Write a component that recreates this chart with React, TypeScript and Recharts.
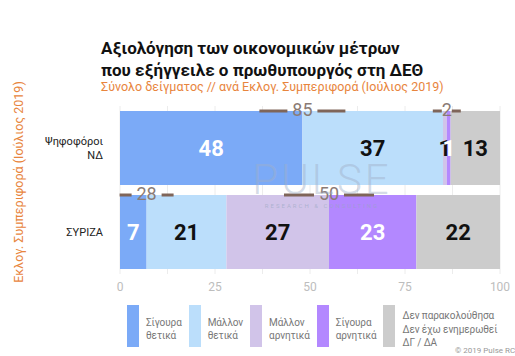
import React from 'react';
import {
  BarChart,
  Bar,
  XAxis,
  YAxis,
  CartesianGrid,
  LabelList,
} from 'recharts';

const categories = ['Ψηφοφόροι\nΝΔ', 'ΣΥΡΙΖΑ'];
const seriesNames = [
  'Σίγουρα\nθετικά',
  'Μάλλον\nθετικά',
  'Μάλλον\nαρνητικά',
  'Σίγουρα\nαρνητικά',
  'Δεν παρακολούθησα\nΔεν έχω ενημερωθεί\nΔΓ / ΔΑ',
];
const definitelyPositive = [48, 7];
const ratherPositive = [37, 21];
const ratherNegative = [1, 27];
const definitelyNegative = [1, 23];
const dontKnow = [13, 22];
const positiveTotals = [85, 28];
const negativeTotals = [2, 50];
const xTicks = [0, 12.5, 25, 37.5, 50, 62.5, 75, 87.5, 100];

const COLORS = ['#7BAAF7', '#BBDEFB', '#D1C4E9', '#B388FF', '#CCCCCC'];
const LABEL_COLORS = ['#ffffff', '#111111', '#111111', '#ffffff', '#111111'];
const KEYS = ['s1', 's2', 's3', 's4', 's5'];
const ORANGE = '#E8853D';
const FONT = 'Roboto, "Noto Sans", sans-serif';

// dash lengths of the total markers, per row
const POS_DASH = [28, 12];
const NEG_DASH = [9, 30];

const data = categories.map((name, i) => ({
  name,
  s1: definitelyPositive[i],
  s2: ratherPositive[i],
  s3: ratherNegative[i],
  s4: definitelyNegative[i],
  s5: dontKnow[i],
}));

const CategoryTick = (props: any) => {
  const { x, y, payload } = props;
  const lines = String(payload.value).split('\n');
  const start = -((lines.length - 1) * 14) / 2;
  return (
    <text x={x - 9} y={y} textAnchor="end" fontSize={11} fill="#222" fontFamily={FONT}>
      {lines.map((l, i) => (
        <tspan key={i} x={x - 9} y={y + start + i * 14} dy="0.35em">
          {l}
        </tspan>
      ))}
    </text>
  );
};

const TotalMark = ({ cx, cy, value, dash }: any) => {
  const half = String(value).length * 10 - 5;
  return (
    <g>
      <line x1={cx - half - dash} x2={cx - half} y1={cy} y2={cy} stroke="#7f6559" strokeWidth={3} />
      <line x1={cx + half} x2={cx + half + dash} y1={cy} y2={cy} stroke="#7f6559" strokeWidth={3} />
      <text
        x={cx}
        y={cy - 2}
        textAnchor="middle"
        dominantBaseline="central"
        fontSize={18}
        fill="#8a7b75"
        fontFamily={FONT}
      >
        {value}
      </text>
    </g>
  );
};

// drawn on the last series so the markers sit above every bar
const Totals = (props: any) => {
  const { x, y, width, index } = props;
  const k = Number(width) / dontKnow[index];
  const rowTotal =
    definitelyPositive[index] + ratherPositive[index] + ratherNegative[index] + definitelyNegative[index] + dontKnow[index];
  const right = Number(x) + Number(width);
  const posB = definitelyPositive[index];
  const negB = posB + ratherPositive[index] + ratherNegative[index];
  return (
    <g>
      <TotalMark cx={right - (rowTotal - posB) * k} cy={Number(y)} value={positiveTotals[index]} dash={POS_DASH[index]} />
      <TotalMark cx={right - (rowTotal - negB) * k} cy={Number(y)} value={negativeTotals[index]} dash={NEG_DASH[index]} />
    </g>
  );
};

const ChartLegend = () => (
  <div style={{ position: 'absolute', left: 127, top: 303, display: 'flex', gap: 7 }}>
    {seriesNames.map((name, i) => (
      <div key={i} style={{ display: 'flex', alignItems: 'center' }}>
        <div style={{ width: 12, height: 42, background: COLORS[i], marginRight: 7 }} />
        <div
          style={{
            fontSize: 10,
            letterSpacing: -0.1,
            lineHeight: '13.5px',
            color: '#777',
            whiteSpace: 'pre',
            paddingTop: 6,
          }}
        >
          {name}
        </div>
      </div>
    ))}
  </div>
);

export default function App() {
  return (
    <div
      style={{
        position: 'absolute',
        left: 0,
        top: 0,
        width: 515,
        height: 356,
        overflow: 'hidden',
        background: '#fff',
        fontFamily: FONT,
      }}
    >
      <BarChart
        width={515}
        height={356}
        data={data}
        layout="vertical"
        margin={{ top: 106, right: 15, bottom: 52, left: 0 }}
        barCategoryGap={5}
        style={{ position: 'absolute', left: 0, top: 0 }}
      >
        <CartesianGrid horizontal={false} stroke="#ececec" />
        <XAxis
          type="number"
          domain={[0, 100]}
          ticks={xTicks}
          interval={0}
          axisLine={false}
          tickLine={false}
          height={30}
          tick={{ fill: '#bdbdbd', fontSize: 12, fontFamily: FONT }}
          tickFormatter={(v: number) => (v % 25 === 0 ? String(v) : '')}
        />
        <YAxis type="category" dataKey="name" width={120} axisLine={false} tickLine={false} tick={<CategoryTick />} />
        {KEYS.map((k, i) => (
          <Bar key={k} dataKey={k} name={seriesNames[i]} stackId="a" fill={COLORS[i]} isAnimationActive={false}>
            <LabelList
              dataKey={k}
              position="center"
              fill={LABEL_COLORS[i]}
              style={{ fontSize: 22, fontWeight: 700, fontFamily: FONT }}
            />
            {i === KEYS.length - 1 && <LabelList dataKey={k} content={<Totals />} />}
          </Bar>
        ))}
      </BarChart>
      {/* watermark sits over the bars */}
      <div
        style={{
          position: 'absolute',
          left: 222,
          width: 200,
          top: 158,
          textAlign: 'center',
          pointerEvents: 'none',
          color: 'rgba(160,176,200,0.45)',
        }}
      >
        <div style={{ fontSize: 42, fontWeight: 300, letterSpacing: 3, lineHeight: '44px' }}>PULSE</div>
        <div style={{ fontSize: 6, letterSpacing: 2, lineHeight: '8px', color: 'rgba(150,165,190,0.6)' }}>
          RESEARCH &amp; CONSULTING
        </div>
      </div>
      <div style={{ position: 'absolute', left: 101, top: 37, fontSize: 17, fontWeight: 700, lineHeight: '22px', color: '#111' }}>
        Αξιολόγηση των οικονομικών μέτρων
        <br />
        που εξήγγειλε ο πρωθυπουργός στη ΔΕΘ
      </div>
      <div style={{ position: 'absolute', left: 101, top: 79, fontSize: 12.5, color: ORANGE, whiteSpace: 'nowrap' }}>
        Σύνολο δείγματος // ανά Εκλογ. Συμπεριφορά (Ιούλιος 2019)
      </div>
      <div
        style={{
          position: 'absolute',
          left: 18,
          top: 182,
          transform: 'translate(-50%, -50%) rotate(-90deg)',
          fontSize: 12.5,
          color: ORANGE,
          whiteSpace: 'nowrap',
        }}
      >
        Εκλογ. Συμπεριφορά (Ιούλιος 2019)
      </div>
      <ChartLegend />
      <div style={{ position: 'absolute', left: 455, top: 346, fontSize: 8, color: '#999', whiteSpace: 'nowrap' }}>
        © 2019 Pulse RC
      </div>
    </div>
  );
}
